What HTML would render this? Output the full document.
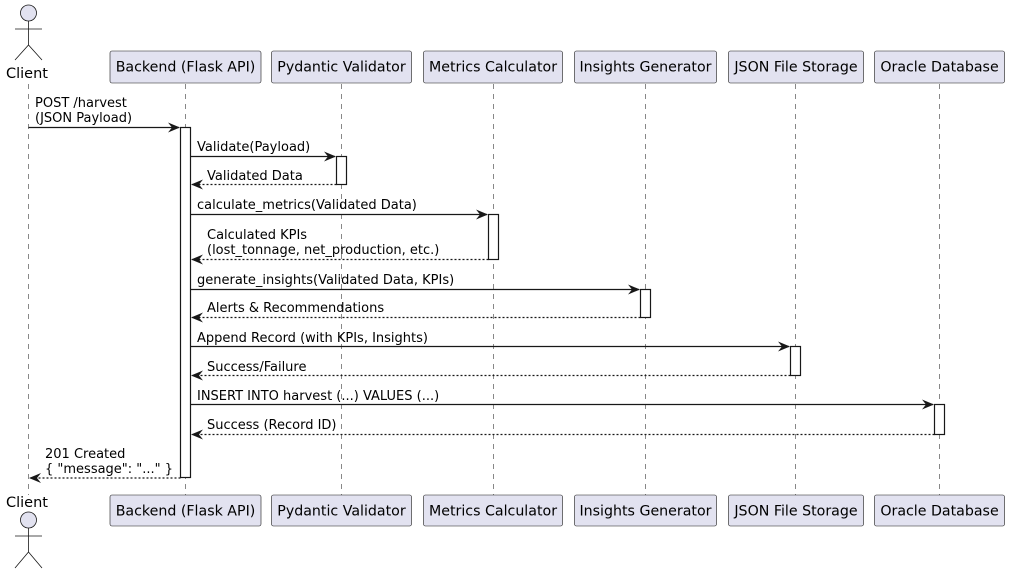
<!DOCTYPE html>
<html><head><meta charset="utf-8"><style>
html,body{margin:0;padding:0;background:#fff;}
svg{display:block;}
text{font-family:"DejaVu Sans","Liberation Sans",sans-serif;font-size:13px;fill:#000;}
.b{fill:#E2E2F0;stroke:#181818;stroke-width:0.6;}
.ll{stroke:#888;stroke-width:1;stroke-dasharray:5,5;}
.a{fill:#fff;stroke:#181818;stroke-width:1.2;}
.m{stroke:#181818;stroke-width:1.2;}
.d{stroke:#181818;stroke-width:1.2;stroke-dasharray:2,2;}
.p{font-size:14.2px;}
.c{font-size:14.5px;}
</style></head><body>
<svg width="1010" height="576" viewBox="0 0 1010 576" xmlns="http://www.w3.org/2000/svg">
<defs>
<marker id="ar" viewBox="0 0 12 10" refX="11" refY="5" markerWidth="12" markerHeight="10" markerUnits="userSpaceOnUse" orient="auto">
<path d="M0,0 L12,5 L0,10 L4,5 Z" fill="#181818"/>
</marker>
<marker id="ao" viewBox="0 0 12 10" refX="11" refY="5" markerWidth="12" markerHeight="10" markerUnits="userSpaceOnUse" orient="auto">
<path d="M0,0 L12,5 L0,10 L4,5 Z" fill="#181818"/>
</marker>
</defs>
<line class="ll" x1="28.5" y1="84" x2="28.5" y2="495"/>
<line class="ll" x1="185.5" y1="84" x2="185.5" y2="495"/>
<line class="ll" x1="341.5" y1="84" x2="341.5" y2="495"/>
<line class="ll" x1="493.5" y1="84" x2="493.5" y2="495"/>
<line class="ll" x1="645.5" y1="84" x2="645.5" y2="495"/>
<line class="ll" x1="795.5" y1="84" x2="795.5" y2="495"/>
<line class="ll" x1="939.5" y1="84" x2="939.5" y2="495"/>

<g fill="#E2E2F0" stroke="#181818" stroke-width="0.8">
<circle cx="28.5" cy="13" r="8"/>
<path d="M28.5,21 V45 M15,29 H42 M15,60 L28.5,45 L42,60" fill="none"/>
<circle cx="28.5" cy="520" r="8"/>
<path d="M28.5,528 V552 M15,536 H42 M15,568 L28.5,552 L42,568" fill="none"/>
</g>
<text class="c" x="27" y="78" text-anchor="middle">Client</text>
<text class="c" x="27" y="507" text-anchor="middle">Client</text>

<g>
<rect class="b" x="110" y="51" width="151" height="32" rx="2"/>
<rect class="b" x="271.5" y="51" width="140" height="32" rx="2"/>
<rect class="b" x="423.5" y="51" width="139" height="32" rx="2"/>
<rect class="b" x="574.5" y="51" width="142" height="32" rx="2"/>
<rect class="b" x="728.5" y="51" width="135" height="32" rx="2"/>
<rect class="b" x="874.5" y="51" width="130" height="32" rx="2"/>
<rect class="b" x="110" y="495" width="151" height="31" rx="2"/>
<rect class="b" x="271.5" y="495" width="140" height="31" rx="2"/>
<rect class="b" x="423.5" y="495" width="139" height="31" rx="2"/>
<rect class="b" x="574.5" y="495" width="142" height="31" rx="2"/>
<rect class="b" x="728.5" y="495" width="135" height="31" rx="2"/>
<rect class="b" x="874.5" y="495" width="130" height="31" rx="2"/>
</g>
<g text-anchor="middle">
<text class="p" x="185.5" y="71.5">Backend (Flask API)</text>
<text class="p" x="341.5" y="71.5">Pydantic Validator</text>
<text class="p" x="493" y="71.5">Metrics Calculator</text>
<text class="p" x="645.5" y="71.5">Insights Generator</text>
<text class="p" x="796" y="71.5">JSON File Storage</text>
<text class="p" x="939.5" y="71.5">Oracle Database</text>
<text class="p" x="185.5" y="515.5">Backend (Flask API)</text>
<text class="p" x="341.5" y="515.5">Pydantic Validator</text>
<text class="p" x="493" y="515.5">Metrics Calculator</text>
<text class="p" x="645.5" y="515.5">Insights Generator</text>
<text class="p" x="796" y="515.5">JSON File Storage</text>
<text class="p" x="939.5" y="515.5">Oracle Database</text>
</g>

<rect class="a" x="180.5" y="127.5" width="10" height="350"/>
<rect class="a" x="336.5" y="156.5" width="10" height="28"/>
<rect class="a" x="488.5" y="214.5" width="10" height="45"/>
<rect class="a" x="640.5" y="289.5" width="10" height="28"/>
<rect class="a" x="790.5" y="346.5" width="10" height="29"/>
<rect class="a" x="934.5" y="404.5" width="10" height="30"/>

<line class="m" x1="28.5" y1="127.5" x2="179" y2="127.5" marker-end="url(#ar)"/>
<text x="35" y="107">POST /harvest</text>
<text x="35" y="122">(JSON Payload)</text>

<line class="m" x1="190.5" y1="156.5" x2="335" y2="156.5" marker-end="url(#ar)"/>
<text x="197" y="151">Validate(Payload)</text>
<line class="d" x1="336.5" y1="184.5" x2="192" y2="184.5" marker-end="url(#ao)"/>
<text x="207" y="180">Validated Data</text>

<line class="m" x1="190.5" y1="214.5" x2="487" y2="214.5" marker-end="url(#ar)"/>
<text x="197" y="209">calculate_metrics(Validated Data)</text>
<line class="d" x1="488.5" y1="259.5" x2="192" y2="259.5" marker-end="url(#ao)"/>
<text x="207" y="239">Calculated KPIs</text>
<text x="207" y="254">(lost_tonnage, net_production, etc.)</text>

<line class="m" x1="190.5" y1="289.5" x2="639" y2="289.5" marker-end="url(#ar)"/>
<text x="197" y="284">generate_insights(Validated Data, KPIs)</text>
<line class="d" x1="640.5" y1="317.5" x2="192" y2="317.5" marker-end="url(#ao)"/>
<text x="207" y="312">Alerts &amp; Recommendations</text>

<line class="m" x1="190.5" y1="346.5" x2="789" y2="346.5" marker-end="url(#ar)"/>
<text x="197" y="342">Append Record (with KPIs, Insights)</text>
<line class="d" x1="790.5" y1="375.5" x2="192" y2="375.5" marker-end="url(#ao)"/>
<text x="207" y="371">Success/Failure</text>

<line class="m" x1="190.5" y1="404.5" x2="933" y2="404.5" marker-end="url(#ar)"/>
<text x="197" y="400">INSERT INTO harvest (...) VALUES (...)</text>
<line class="d" x1="934.5" y1="434.5" x2="192" y2="434.5" marker-end="url(#ao)"/>
<text x="207" y="429">Success (Record ID)</text>

<line class="d" x1="180.5" y1="478" x2="30" y2="478" marker-end="url(#ao)"/>
<text x="45" y="458">201 Created</text>
<text x="45" y="473">{ "message": "..." }</text>
</svg>
</body></html>
